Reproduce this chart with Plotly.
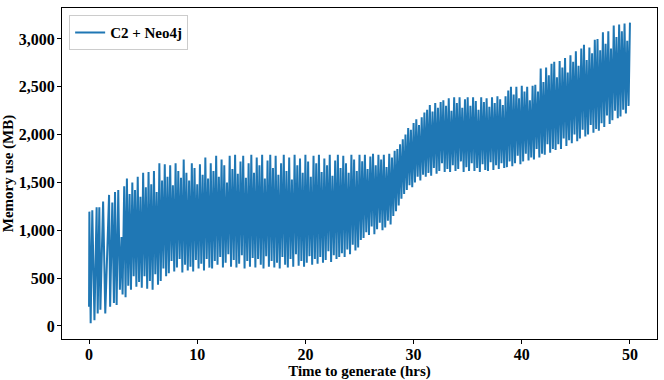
import numpy as np
import plotly.graph_objects as go

# sparse start of the run (read spike by spike)
hours_start = [0.0, 0.03, 0.15, 0.3, 0.5, 0.7, 0.8, 0.95, 1.05, 1.3, 1.5, 1.85, 1.95,
               2.15, 2.3, 2.4, 2.55, 2.7, 2.85, 3.0, 3.1]
mem_start = [200, 1195, 30, 1210, 60, 1240, 130, 1240, 170, 1300, 130, 1370, 200,
             1290, 240, 1400, 220, 1420, 380, 930, 330]

# dense part: peaks every 0.25 h from 3.25 h, troughs between them
hours_peak = np.arange(3.25, 50.01, 0.25)
mem_peak = [
    1460, 1540, 1380, 1500, 1420, 1560, 1350, 1600,
    1450, 1610, 1480, 1620, 1400, 1700, 1520, 1690,
    1560, 1680, 1470, 1700, 1620, 1550, 1740, 1600,
    1520, 1700, 1650, 1480, 1690, 1580, 1760, 1540,
    1700, 1620, 1780, 1560, 1740, 1680, 1500, 1780,
    1640, 1790, 1590, 1720, 1780, 1550, 1700, 1790,
    1600, 1760, 1680, 1790, 1540, 1730, 1790, 1650,
    1780, 1580, 1700, 1790, 1620, 1760, 1530, 1790,
    1680, 1750, 1600, 1790, 1720, 1560, 1780, 1700,
    1790, 1610, 1750, 1680, 1790, 1570, 1730, 1790,
    1650, 1780, 1700, 1600, 1790, 1740, 1620, 1790,
    1720, 1790, 1640, 1770, 1800, 1680, 1790, 1740,
    1790, 1660, 1800, 1760, 1830, 1850, 1900, 1950,
    2000, 2070, 2050, 2120, 2160, 2100, 2180, 2230,
    2260, 2310, 2240, 2330, 2280, 2340, 2360, 2300,
    2380, 2250, 2390, 2330, 2390, 2280, 2370, 2390,
    2300, 2390, 2350, 2260, 2390, 2340, 2380, 2290,
    2390, 2330, 2400, 2370, 2310, 2400, 2460, 2500,
    2420, 2500, 2380, 2510, 2450, 2500, 2360, 2510,
    2520, 2450, 2690, 2550, 2700, 2620, 2740, 2760,
    2600, 2770, 2700, 2800, 2650, 2830, 2760, 2870,
    2720, 2900, 2940, 2780, 2910, 2850, 2990, 3000,
    2880, 3070, 2950, 3080, 2900, 3140, 3020, 3150,
    3080, 3160, 2980, 3170,
]

hours_trough = np.arange(3.375, 49.9, 0.25)
mem_trough = [
    300, 420, 380, 520, 410, 460, 400, 520,
    390, 470, 380, 540, 430, 470, 600, 520,
    550, 680, 570, 610, 700, 560, 640, 580,
    620, 570, 690, 600, 650, 580, 700, 610,
    600, 680, 640, 720, 610, 660, 750, 620,
    690, 610, 650, 740, 600, 680, 620, 710,
    610, 700, 640, 600, 730, 620, 680, 610,
    660, 600, 720, 640, 610, 700, 620, 750,
    630, 680, 620, 660, 730, 640, 700, 650,
    720, 660, 690, 780, 670, 740, 700, 720,
    760, 720, 800, 750, 850, 790, 820, 900,
    920, 980, 950, 1040, 960, 1010, 1080, 1000,
    1030, 1100, 1060, 1150, 1200, 1260, 1330, 1380,
    1420, 1470, 1450, 1500, 1560, 1520, 1580, 1560,
    1600, 1570, 1650, 1590, 1620, 1700, 1610, 1640,
    1610, 1680, 1620, 1640, 1720, 1610, 1660, 1620,
    1700, 1620, 1650, 1610, 1690, 1630, 1620, 1710,
    1630, 1680, 1640, 1700, 1650, 1660, 1720, 1670,
    1700, 1780, 1690, 1720, 1800, 1730, 1760, 1740,
    1850, 1760, 1800, 1790, 1900, 1810, 1850, 1840,
    1900, 1850, 1960, 1880, 1940, 1910, 2000, 1930,
    1960, 2050, 1980, 2000, 2100, 2020, 2060, 2040,
    2120, 2080, 2200, 2110, 2150, 2250, 2170, 2190,
    2260, 2220, 2300,
]

x_ticks = [0, 10, 20, 30, 40, 50]
y_ticks = [0, 500, 1000, 1500, 2000, 2500, 3000]

# merge everything into one time-ordered series
t = np.concatenate([hours_start, hours_peak, hours_trough])
m = np.concatenate([mem_start, mem_peak, mem_trough])
order = np.argsort(t, kind="stable")
t, m = t[order], m[order]

font = "Liberation Serif, Times New Roman, serif"

fig = go.Figure()
fig.add_trace(go.Scatter(x=t, y=m, mode="lines", name="<b>C2 + Neo4j</b>",
                         line=dict(color="#1f77b4", width=2.0, simplify=False)))

fig.update_layout(
    width=664, height=380,
    margin=dict(l=62, r=7, t=8, b=41),
    plot_bgcolor="white", paper_bgcolor="white",
    font=dict(family=font, size=16, color="black"),
    showlegend=True,
    legend=dict(x=0.012, y=0.978, xanchor="left", yanchor="top",
                bgcolor="rgba(255,255,255,0.8)", bordercolor="#cccccc", borderwidth=1,
                itemwidth=30, font=dict(size=15, family=font)),
)
fig.update_xaxes(range=[-2.5, 52.5], tickvals=x_ticks,
                 ticktext=["<b>%d</b>" % v for v in x_ticks],
                 ticks="outside", ticklen=4, tickcolor="black", ticklabelstandoff=-3,
                 showline=True, linecolor="black", linewidth=1, mirror=True,
                 showgrid=False, zeroline=False, automargin=False,
                 tickfont=dict(size=16, family=font),
                 title=dict(text="<b>Time to generate (hrs)</b>", standoff=0,
                            font=dict(size=15, family=font)))
fig.update_yaxes(range=[-136, 3323], tickvals=y_ticks,
                 ticktext=["<b>%s</b>" % f"{v:,}" for v in y_ticks],
                 ticks="outside", ticklen=4, tickcolor="black", ticklabelstandoff=-1,
                 showline=True, linecolor="black", linewidth=1, mirror=True,
                 showgrid=False, zeroline=False, automargin=False,
                 tickfont=dict(size=16, family=font),
                 title=dict(text="<b>Memory use (MB)</b>", standoff=2,
                            font=dict(size=15, family=font)))

# drop the page's default body margin so the figure sits at the window corner
fig.write_html("out.html", config={"displayModeBar": False},
               post_script="document.body.style.margin='0px';")
